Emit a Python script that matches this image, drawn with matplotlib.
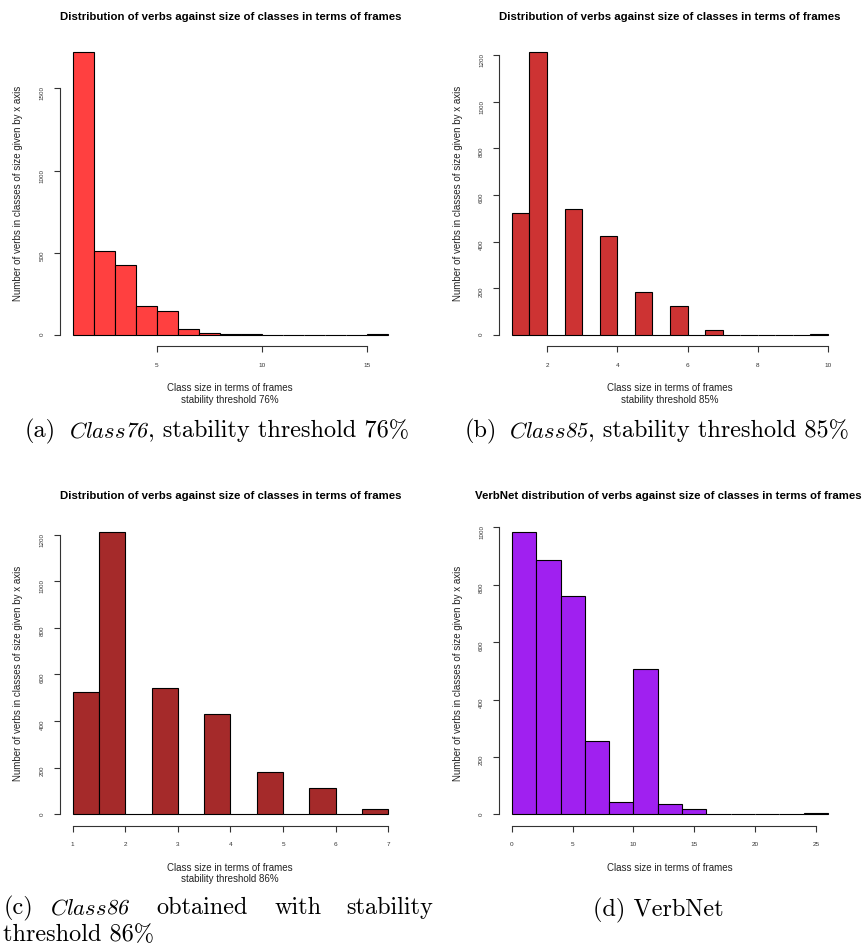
import matplotlib
matplotlib.use('Agg')
import matplotlib.pyplot as plt
import numpy as np
from matplotlib.textpath import TextPath
from matplotlib.font_manager import FontProperties
from matplotlib.patches import PathPatch
from matplotlib.transforms import Affine2D

W, H = 865, 946

# ---- data ----
# (a) Class76: bins of width 1 from 1 to 16
a_start, a_width = 1, 1
a_counts = [1723, 513, 426, 176, 146, 35, 12, 4, 3, 0, 0, 0, 0, 0, 4]
a_xticks = [5, 10, 15]
a_yticks = [0, 500, 1000, 1500]

# (b) Class85: bins of width 0.5 from 1 to 10
b_start, b_width = 1, 0.5
b_counts = [524, 1213, 0, 539, 0, 426, 0, 184, 0, 124, 0, 20, 0, 0, 0, 0, 0, 4]
b_xticks = [2, 4, 6, 8, 10]
b_yticks = [0, 200, 400, 600, 800, 1000, 1200]

# (c) Class86: bins of width 0.5 from 1 to 7
c_start, c_width = 1, 0.5
c_counts = [523, 1213, 0, 541, 0, 431, 0, 180, 0, 113, 0, 24]
c_xticks = [1, 2, 3, 4, 5, 6, 7]
c_yticks = [0, 200, 400, 600, 800, 1000, 1200]

# (d) VerbNet: bins of width 2 from 0 to 26
d_start, d_width = 0, 2
d_counts = [986, 886, 762, 255, 44, 508, 35, 17, 0, 0, 0, 0, 5]
d_xticks = [0, 5, 10, 15, 20, 25]
d_yticks = [0, 200, 400, 600, 800, 1000]

title = 'Distribution of verbs against size of classes in terms of frames'
title_vn = 'VerbNet distribution of verbs against size of classes in terms of frames'
ylab = 'Number of verbs in classes of size given by x axis'
xlab = 'Class size in terms of frames'

SANS = 'Liberation Sans'
plt.rcParams['mathtext.fontset'] = 'cm'

fig = plt.figure(figsize=(W / 100, H / 100), dpi=100)


def px(x, y):
    return x / W, 1 - y / H


def box(l, t, r, b):
    return [l / W, 1 - b / H, (r - l) / W, (b - t) / H]


def hist_panel(rect, start, width, counts, color, xticks, yticks):
    ax = fig.add_axes(rect)
    counts = np.array(counts)
    lefts = start + width * np.arange(len(counts))
    ax.bar(lefts, counts, width=width, align='edge', color=color,
           edgecolor='black', linewidth=0.8)
    lo, hi = lefts[0], lefts[-1] + width
    pad = 0.04 * (hi - lo)
    ax.set_xlim(lo - pad, hi + pad)
    ax.set_ylim(-0.04 * counts.max(), 1.04 * counts.max())
    for s in ['top', 'right']:
        ax.spines[s].set_visible(False)
    for s in ['left', 'bottom']:
        ax.spines[s].set_linewidth(0.8)
        ax.spines[s].set_color('#333333')
    ax.spines['left'].set_bounds(yticks[0], yticks[-1])
    ax.spines['bottom'].set_bounds(xticks[0], xticks[-1])
    ax.set_xticks(xticks)
    ax.set_yticks(yticks)
    ax.tick_params(axis='both', length=4, width=0.8, color='#333333',
                   labelcolor='#333333')
    ax.tick_params(axis='x', labelsize=4.6, pad=8)
    ax.tick_params(axis='y', labelsize=4.5, pad=7, labelrotation=90)
    for lab in ax.get_xticklabels() + ax.get_yticklabels():
        lab.set_family(SANS)
    ax.set_facecolor('white')
    return ax


hist_panel(box(60.1, 40.5, 400.9, 346.3), a_start, a_width, a_counts,
           '#FF4040', a_xticks, a_yticks)
hist_panel(box(499.3, 40.5, 840.6, 346.3), b_start, b_width, b_counts,
           '#CD3333', b_xticks, b_yticks)
hist_panel(box(60.1, 520.2, 400.9, 825.6), c_start, c_width, c_counts,
           '#A52A2A', c_xticks, c_yticks)
hist_panel(box(499.3, 520.2, 840.6, 825.6), d_start, d_width, d_counts,
           '#A020F0', d_xticks, d_yticks)

# titles
tkw = dict(family=SANS, fontweight='bold', fontsize=8.2, ha='center', va='center')
fig.text(*px(230.5, 16.7), title, **tkw)
fig.text(*px(669.5, 16.7), title, **tkw)
fig.text(*px(230.5, 496), title, **tkw)
fig.text(*px(668, 496), title_vn, **tkw)

# y labels
ykw = dict(family=SANS, fontsize=7.05, ha='center', va='center', rotation=90,
           color='#222222')
fig.text(*px(18.3, 193.4), ylab, **ykw)
fig.text(*px(458.3, 193.4), ylab, **ykw)
fig.text(*px(18.3, 673), ylab, **ykw)
fig.text(*px(458.3, 673), ylab, **ykw)

# x labels
xkw = dict(family=SANS, fontsize=7.05, ha='center', va='center',
           color='#222222', linespacing=1.2)
fig.text(*px(230, 394), xlab + '\nstability threshold 76%', **xkw)
fig.text(*px(670, 394), xlab + '\nstability threshold 85%', **xkw)
fig.text(*px(230, 873.5), xlab + '\nstability threshold 86%', **xkw)
fig.text(*px(670, 867.7), xlab, **xkw)

# ---- captions (LaTeX-like, Computer Modern) ----
CAP_PT = 17.5
CAP_PX = CAP_PT * fig.dpi / 72
ckw = dict(family='cmr10', fontsize=CAP_PT, va='baseline', ha='left',
           color='black')


def rm(x, y, s):
    fig.text(*px(x, y), s, **ckw)


def italic_name(x_letters, x_digits, y, letters, digits):
    # letters in math italic, digits slanted like cmti
    kw = dict(ckw, fontsize=CAP_PT * 0.93)
    fig.text(*px(x_letters, y), r'$\mathit{%s}$' % letters, **kw)
    path = TextPath((0, 0), digits, size=CAP_PX * 0.88,
                    prop=FontProperties(family='cmr10'))
    tr = Affine2D().skew(np.arctan(0.2), 0).translate(x_digits, H - y)
    fig.add_artist(PathPatch(path, transform=tr, facecolor='black', lw=0))


def caption(x, y, label, letters, digits, rest):
    rm(x, y, label)
    italic_name(x + 44, x + 100.5, y, letters, digits)
    rm(x + 123, y, rest)


caption(25, 437, '(a)', 'Class', '76', ', stability threshold 76%')
caption(465, 437, '(b)', 'Class', '85', ', stability threshold 85%')

rm(3.3, 914, '(c)')
italic_name(50, 106.5, 914, 'Class', '86')
rm(156.7, 914, 'obtained')
rm(275, 914, 'with')
rm(346.7, 914, 'stability')
rm(3.3, 941, 'threshold 86%')

fig.text(*px(658, 916), '(d) VerbNet', family='cmr10', fontsize=CAP_PT,
         va='baseline', ha='center')

fig.savefig('out.png', dpi=100, facecolor='white')
